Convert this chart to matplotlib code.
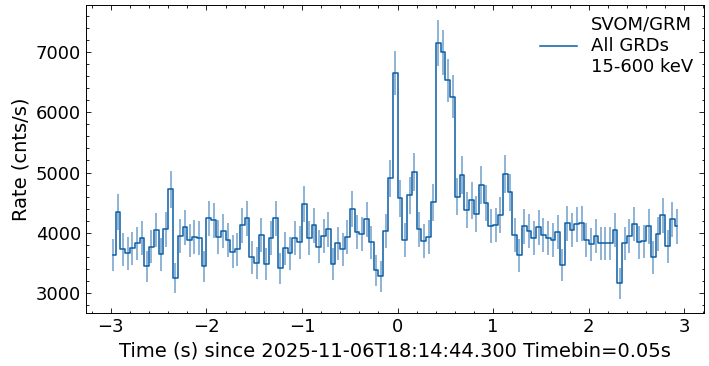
import numpy as np
import matplotlib
matplotlib.use("Agg")
import matplotlib.pyplot as plt
from matplotlib.ticker import MultipleLocator

# light curve, 0.05 s bins, rates (cnts/s)
bin_width = 0.05
t_first = -2.975
rate = [3634, 4346, 3733, 3662, 3744, 3827, 3910, 3446, 3772, 4048,
        3645, 4059, 4721, 3253, 3943, 4092, 3877, 3938, 3910, 3446,
        4241, 4208, 3926, 4026, 3882, 3689, 3733, 4125, 4241, 3595,
        3496, 3971, 3479, 3910, 4241, 3413, 3744, 3662, 3910, 3844,
        4473, 3921, 4125, 3772, 3943, 4059, 3485, 3827, 3733, 3926,
        4390, 4015, 3976, 4225, 3844, 3380, 3286, 4031, 4903, 6642,
        4572, 3882, 4622, 5003, 4059, 3866, 3927, 4506, 7150, 6990,
        6526, 6256, 4600, 4953, 4374, 4539, 4313, 4793, 4500, 4114,
        4131, 4296, 4975, 4677, 3965, 3628, 4109, 4031, 3910, 4092,
        3960, 3915, 3882, 4009, 3463, 4158, 4048, 4142, 4158, 3882,
        3811, 3943, 3827, 3827, 3827, 4048, 3165, 3827, 3943, 4147,
        3844, 3860, 4109, 3595, 3976, 4291, 3777, 4225, 4109]

legend_label = "SVOM/GRM\nAll GRDs\n15-600 keV"
x_label = "Time (s) since 2025-11-06T18:14:44.300 Timebin=0.05s"
y_label = "Rate (cnts/s)"

rate = np.array(rate, dtype=float)
times = t_first + bin_width * np.arange(len(rate))
# poisson error on the counts in each bin
rate_err = np.sqrt(rate * bin_width) / bin_width

plt.rcParams.update({
    "font.family": "DejaVu Sans",
    "xtick.direction": "in",
    "ytick.direction": "in",
    "xtick.top": True,
    "ytick.right": True,
    "xtick.major.size": 3.5,
    "ytick.major.size": 3.5,
    "xtick.minor.size": 1.8,
    "ytick.minor.size": 1.8,
    "xtick.major.width": 0.6,
    "ytick.major.width": 0.6,
    "xtick.minor.width": 0.6,
    "ytick.minor.width": 0.6,
    "axes.linewidth": 0.7,
})

fig, ax = plt.subplots(figsize=(7.09, 3.66), dpi=100)
fig.subplots_adjust(left=0.121, right=0.993, top=0.986, bottom=0.144)

color = "#0C5DA5"
ax.errorbar(times, rate, yerr=rate_err, fmt="none", ecolor=color,
            alpha=0.5, elinewidth=1.3)
ax.step(times, rate, where="mid", color=color, lw=1.1, label=legend_label)

ax.set_xlim(-3.262, 3.206)
ax.set_ylim(2669, 7773)
ax.xaxis.set_major_locator(MultipleLocator(1))
ax.xaxis.set_minor_locator(MultipleLocator(0.2))
ax.yaxis.set_major_locator(MultipleLocator(1000))
ax.yaxis.set_minor_locator(MultipleLocator(200))
ax.tick_params(labelsize=13)

ax.set_xlabel(x_label, fontsize=14)
ax.set_ylabel(y_label, fontsize=14)
ax.legend(loc="upper right", frameon=False, fontsize=13, borderaxespad=0.2)

fig.savefig("out.png", dpi=100)
